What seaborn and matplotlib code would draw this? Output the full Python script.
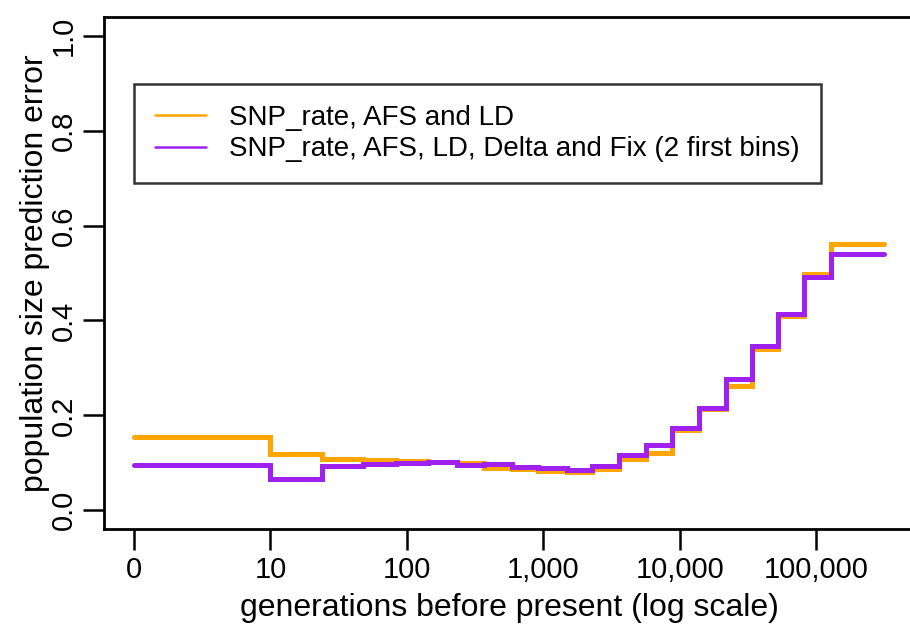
import numpy as np
import pandas as pd
import matplotlib
matplotlib.use("Agg")
import matplotlib.pyplot as plt
import seaborn as sns
from matplotlib.lines import Line2D

# bin edges in generations before present (first edge is "0")
bin_edges = [0, 10, 24, 48, 83, 143, 232, 366, 588, 912, 1486, 2265, 3573,
             5636, 8730, 13770, 21730, 33650, 52240, 80900, 127600, 312600]
err_afs_ld = [0.154, 0.118, 0.109, 0.105, 0.104, 0.101, 0.099, 0.090, 0.088,
              0.083, 0.081, 0.088, 0.109, 0.120, 0.169, 0.214, 0.262, 0.340,
              0.409, 0.497, 0.562]
err_full = [0.095, 0.067, 0.093, 0.097, 0.100, 0.101, 0.095, 0.098, 0.091,
            0.090, 0.086, 0.093, 0.117, 0.138, 0.174, 0.216, 0.277, 0.347,
            0.414, 0.492, 0.540]
labels = ["SNP_rate, AFS and LD",
          "SNP_rate, AFS, LD, Delta and Fix (2 first bins)"]
colors = ["#FFA500", "#A020F0"]
xticks = [1, 10, 100, 1000, 10000, 100000]
xticklabels = ["0", "10", "100", "1,000", "10,000", "100,000"]
yticks = [0.0, 0.2, 0.4, 0.6, 0.8, 1.0]

sns.set_theme(style="ticks")
plt.rcParams["font.family"] = ["Liberation Sans", "DejaVu Sans"]
plt.rcParams["text.color"] = "black"

# "0" is drawn where 1 would sit on the log axis
gens = np.where(np.array(bin_edges) == 0, 1, bin_edges)
rows = []
for lab, vals in zip(labels, [err_afs_ld, err_full]):
    v = list(vals) + [vals[-1]]  # repeat last value to close the final step
    rows.append(pd.DataFrame({"gen": gens, "err": v, "model": lab}))
df = pd.concat(rows, ignore_index=True)

fig = plt.figure(figsize=(9.10, 6.33), dpi=100)
ax = fig.add_axes([0.1143, 0.1638, 0.890, 0.8098])

sns.lineplot(data=df, x="gen", y="err", hue="model", hue_order=labels,
             palette=colors, drawstyle="steps-post", linewidth=3.6,
             legend=False, ax=ax, solid_joinstyle="miter")

ax.set_xscale("log")
span = np.log10(gens[-1])
ax.set_xlim(10 ** (-0.04 * span), 10 ** (1.04 * span))
ax.set_ylim(-0.04, 1.04)
ax.set_xticks(xticks)
ax.set_xticklabels(xticklabels)
ax.xaxis.set_minor_locator(matplotlib.ticker.NullLocator())
ax.set_yticks(yticks)
ax.set_yticklabels([f"{t:.1f}" for t in yticks], rotation=90, va="center")

ax.tick_params(axis="both", length=15, width=1.8, labelsize=21, pad=4,
               color="black", labelcolor="black")
for s in ax.spines.values():
    s.set_linewidth(2.0)
    s.set_color("black")
    s.set_visible(True)

ax.set_xlabel("generations before present (log scale)", fontsize=23,
              labelpad=7, color="black")
ax.set_ylabel("population size prediction error", fontsize=23,
              labelpad=0, color="black")

handles = [Line2D([], [], color=c, lw=1.8) for c in colors]
leg = ax.legend(handles, labels, loc="upper left",
                bbox_to_anchor=(134 / 910, 1 - 84 / 633 - 0.1,
                                (821 - 134) / 910, 0.1),
                bbox_transform=fig.transFigure, mode="expand",
                fontsize=20, frameon=True, fancybox=False, borderpad=0.75,
                labelspacing=0.2, handlelength=1.84, handletextpad=0.84,
                borderaxespad=0)
leg.get_frame().set_edgecolor("black")
leg.get_frame().set_linewidth(1.8)
for t in leg.get_texts():
    t.set_color("black")

fig.savefig("out.png", dpi=100, facecolor="white")
